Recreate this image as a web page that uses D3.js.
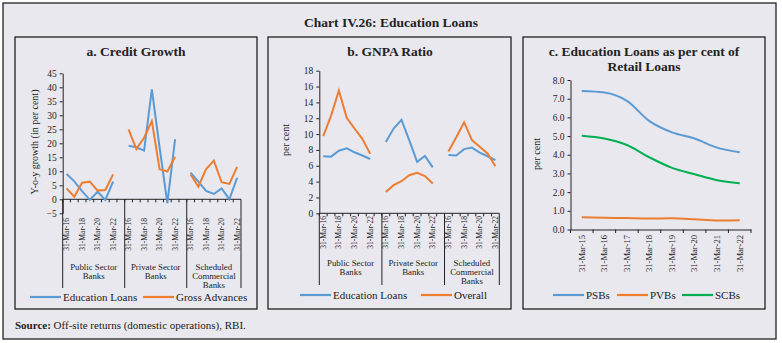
<!DOCTYPE html>
<html>
<head>
<meta charset="utf-8">
<script src="https://cdn.jsdelivr.net/npm/d3@7"></script>
<style>
body { margin: 0; background: #fff; }
text { font-family: "Liberation Serif", serif; fill: #222; }
</style>
</head>
<body>
<div id="chart"></div>
<script>
// data
var years = ["31-Mar-16", "31-Mar-17", "31-Mar-18", "31-Mar-19", "31-Mar-20", "31-Mar-21", "31-Mar-22"];
var groupLines = [["Public Sector", "Banks"], ["Private Sector", "Banks"], ["Scheduled", "Commercial", "Banks"]];

// a. credit growth, one array per bank group
var creditEdu = [[9.0, 6.4, 2.9, -0.2, 2.7, -0.2, 6.3], [19.1, 18.6, 17.4, 39.3, 18.5, -1.4, 21.5], [9.5, 6.3, 3.0, 1.9, 3.9, 0.0, 7.7]];
var creditGross = [[3.9, 0.9, 5.9, 6.3, 3.1, 3.3, 8.9], [25.0, 17.9, 22.0, 27.9, 10.7, 9.9, 15.2], [8.9, 4.5, 10.8, 13.8, 6.1, 5.5, 11.6]];

// b. GNPA ratio
var gnpaEdu = [[7.2, 7.15, 7.9, 8.2, 7.7, 7.3, 6.85], [9.0, 10.7, 11.8, 9.2, 6.5, 7.25, 5.8], [7.35, 7.3, 8.1, 8.3, 7.65, 7.2, 6.7]];
var gnpaOverall = [[9.75, 12.3, 15.5, 12.05, 10.7, 9.4, 7.5], [2.7, 3.55, 4.05, 4.8, 5.1, 4.7, 3.75], [7.8, 9.6, 11.5, 9.25, 8.4, 7.55, 5.95]];

// c. education loans as per cent of retail loans
var retailYears = ["31-Mar-15", "31-Mar-16", "31-Mar-17", "31-Mar-18", "31-Mar-19", "31-Mar-20", "31-Mar-21", "31-Mar-22"];
var psbs = [7.41, 7.33, 6.88, 5.8, 5.2, 4.87, 4.38, 4.13];
var pvbs = [0.65, 0.63, 0.61, 0.59, 0.6, 0.55, 0.48, 0.5];
var scbs = [5.02, 4.87, 4.52, 3.86, 3.3, 2.96, 2.64, 2.48];

var blue = "#5b9bd5", orange = "#ed7d31", green = "#00b050";
var ink = "#222";

var svg = d3.select("#chart").append("svg")
    .attr("width", 782)
    .attr("height", 343);

svg.append("rect")
    .attr("x", 3).attr("y", 3).attr("width", 773).attr("height", 336)
    .attr("fill", "#e9e8ee").attr("stroke", ink).attr("stroke-width", 1.3);

svg.append("text")
    .attr("x", 391).attr("y", 27)
    .attr("text-anchor", "middle")
    .style("font-size", "13.5px").style("font-weight", "bold")
    .text("Chart IV.26: Education Loans");

[[15, 257], [268, 511], [523, 765]].forEach(function(p) {
    svg.append("rect")
        .attr("x", p[0]).attr("y", 37).attr("width", p[1] - p[0]).attr("height", 272)
        .attr("fill", "none").attr("stroke", ink).attr("stroke-width", 1.3);
});

function legend(items, y) {
    items.forEach(function(it) {
        svg.append("line")
            .attr("x1", it.x).attr("x2", it.x + 31).attr("y1", y).attr("y2", y)
            .attr("stroke", it.color).attr("stroke-width", 2.2);
        svg.append("text")
            .attr("x", it.x + 33).attr("y", y + 3.5)
            .style("font-size", "11px")
            .text(it.label);
    });
}

function yAxis(y, x0, values, fmt) {
    var ax = d3.axisLeft(y).tickValues(values).tickSize(3).tickSizeOuter(0).tickFormat(fmt);
    var g = svg.append("g").attr("transform", "translate(" + x0 + ",0)").call(ax);
    g.select(".domain").attr("stroke", ink);
    g.selectAll(".tick line").attr("stroke", ink);
    g.selectAll(".tick text")
        .style("font-family", "Liberation Serif, serif").style("font-size", "9.5px").attr("fill", ink);
}

function yTitle(txt, x, y) {
    svg.append("text")
        .attr("transform", "translate(" + x + "," + y + ") rotate(-90)")
        .attr("text-anchor", "middle")
        .style("font-size", "10px")
        .text(txt);
}

// panels a and b share the grouped category axis
function groupedPanel(o) {
    var keys = [];
    groupLines.forEach(function(g, gi) {
        years.forEach(function(yr, yi) { keys.push(gi + "|" + yi); });
        if (gi < groupLines.length - 1) keys.push(gi + "|gap");
    });
    var x = d3.scaleBand().domain(keys).range([o.x0, o.x1]);
    var y = d3.scaleLinear().domain(o.yDomain).range(o.yRange);
    var cx = function(gi, i) { return x(gi + "|" + i) + x.bandwidth() / 2; };

    svg.append("text")
        .attr("x", o.cx).attr("y", 56)
        .attr("text-anchor", "middle")
        .style("font-size", "13.5px").style("font-weight", "bold")
        .text(o.title);

    yAxis(y, o.x0, d3.range(o.yDomain[0], o.yDomain[1] + 0.01, o.step), d3.format("d"));
    yTitle(o.yLabel, o.yLabelX, o.yLabelY);

    var base = y(0);
    svg.append("line")
        .attr("x1", o.x0).attr("x2", o.x1).attr("y1", base).attr("y2", base)
        .attr("stroke", ink);
    keys.forEach(function(k) {
        svg.append("line")
            .attr("x1", x(k)).attr("x2", x(k)).attr("y1", base).attr("y2", base + 3)
            .attr("stroke", ink);
    });
    var seps = [0, 1, 2].map(function(gi) { return x(gi + "|0"); }).concat([o.x1]);
    seps.forEach(function(sx) {
        svg.append("line")
            .attr("x1", sx).attr("x2", sx).attr("y1", base).attr("y2", o.sepBottom)
            .attr("stroke", ink);
    });

    groupLines.forEach(function(lines, gi) {
        [0, 2, 4, 6].forEach(function(i) {
            svg.append("text")
                .attr("transform", "translate(" + cx(gi, i) + "," + o.labelTop + ") rotate(-90)")
                .attr("text-anchor", "end")
                .attr("dy", "0.33em")
                .style("font-size", "7.6px")
                .text(years[i]);
        });
        var mid = (seps[gi] + seps[gi + 1]) / 2;
        lines.forEach(function(l, li) {
            svg.append("text")
                .attr("x", mid).attr("y", o.groupY + li * 9.2)
                .attr("text-anchor", "middle")
                .style("font-size", "8.8px")
                .text(l);
        });
        o.series.forEach(function(s) {
            var line = d3.line()
                .x(function(d, i) { return cx(gi, i); })
                .y(function(d) { return y(d); });
            svg.append("path")
                .attr("d", line(s.values[gi]))
                .attr("fill", "none").attr("stroke", s.color).attr("stroke-width", 2);
        });
    });
}

groupedPanel({
    title: "a. Credit Growth", cx: 136,
    x0: 62.7, x1: 241, yDomain: [-5, 45], yRange: [213.3, 73.3], step: 5,
    yLabel: "Y-o-y growth (in per cent)", yLabelX: 38, yLabelY: 142,
    labelTop: 218, groupY: 270, sepBottom: 288,
    series: [{ values: creditEdu, color: blue }, { values: creditGross, color: orange }]
});
legend([{ x: 30, color: blue, label: "Education Loans" }, { x: 143, color: orange, label: "Gross Advances" }], 297);

groupedPanel({
    title: "b. GNPA Ratio", cx: 390,
    x0: 319.3, x1: 499.3, yDomain: [0, 18], yRange: [213.3, 70.7], step: 2,
    yLabel: "per cent", yLabelX: 289, yLabelY: 140,
    labelTop: 216, groupY: 266, sepBottom: 285,
    series: [{ values: gnpaEdu, color: blue }, { values: gnpaOverall, color: orange }]
});
legend([{ x: 300, color: blue, label: "Education Loans" }, { x: 421, color: orange, label: "Overall" }], 295);

// panel c
(function() {
    var x = d3.scaleBand().domain(retailYears).range([570.5, 751]);
    var y = d3.scaleLinear().domain([0, 8]).range([229.5, 80]);

    svg.append("text").attr("x", 644).attr("y", 56).attr("text-anchor", "middle")
        .style("font-size", "13.5px").style("font-weight", "bold")
        .text("c. Education Loans as per cent of");
    svg.append("text").attr("x", 644).attr("y", 71).attr("text-anchor", "middle")
        .style("font-size", "13.5px").style("font-weight", "bold")
        .text("Retail Loans");

    yAxis(y, 570.5, d3.range(0, 8.01, 1), d3.format(".1f"));
    yTitle("per cent", 540, 154);

    var gx = svg.append("g").attr("transform", "translate(0,229.5)")
        .call(d3.axisBottom(x).tickSize(0).tickFormat(""));
    gx.select(".domain").attr("stroke", ink);
    retailYears.concat([null]).forEach(function(k) {
        var px = k === null ? 751 : x(k);
        svg.append("line").attr("x1", px).attr("x2", px).attr("y1", 229.5).attr("y2", 233)
            .attr("stroke", ink);
    });
    retailYears.forEach(function(k) {
        svg.append("text")
            .attr("transform", "translate(" + (x(k) + x.bandwidth() / 2) + ",235) rotate(-90)")
            .attr("text-anchor", "end").attr("dy", "0.33em")
            .style("font-size", "8.6px")
            .text(k);
    });

    var line = d3.line()
        .x(function(d, i) { return x(retailYears[i]) + x.bandwidth() / 2; })
        .y(function(d) { return y(d); })
        .curve(d3.curveMonotoneX);
    [[psbs, blue], [pvbs, orange], [scbs, green]].forEach(function(s) {
        svg.append("path").attr("d", line(s[0]))
            .attr("fill", "none").attr("stroke", s[1]).attr("stroke-width", 2);
    });
    legend([{ x: 553, color: blue, label: "PSBs" }, { x: 617, color: orange, label: "PVBs" },
            { x: 682, color: green, label: "SCBs" }], 295);
})();

var src = svg.append("text").attr("x", 15).attr("y", 329).style("font-size", "11px");
src.append("tspan").style("font-weight", "bold").text("Source: ");
src.append("tspan").text("Off-site returns (domestic operations), RBI.");
</script>
</body>
</html>
